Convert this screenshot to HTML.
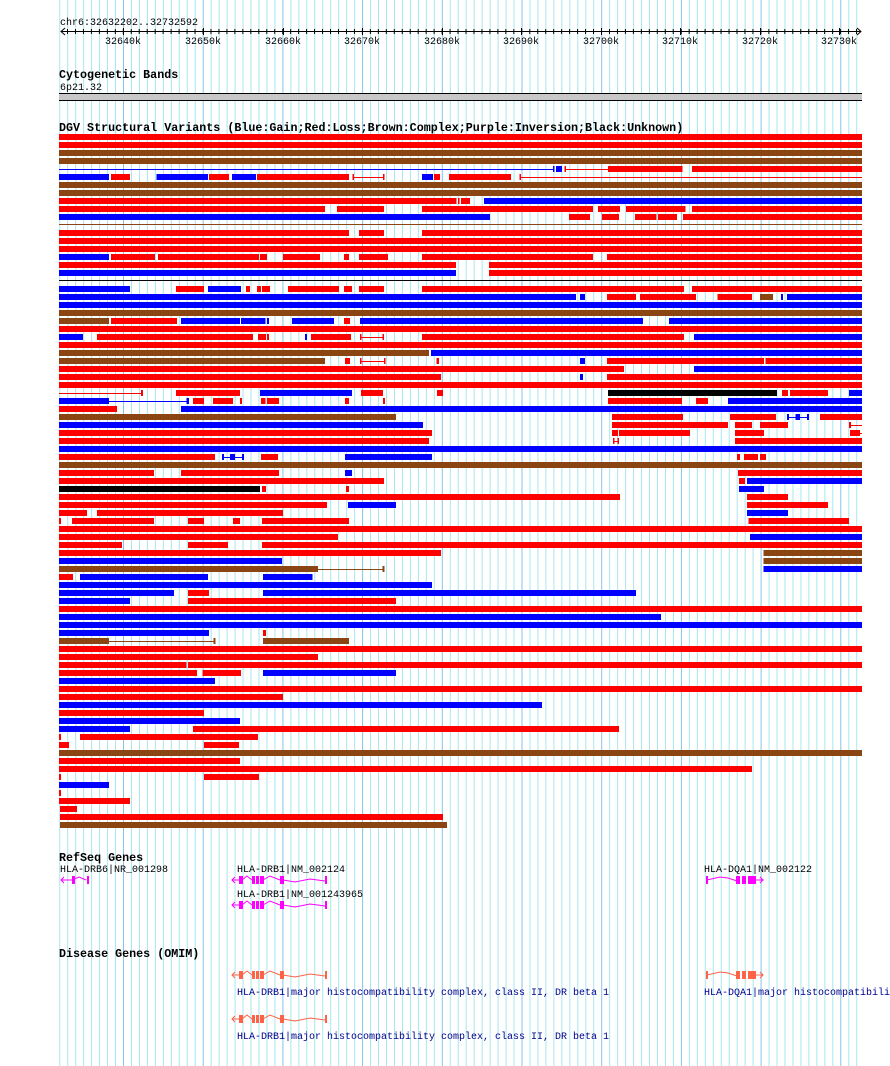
<!DOCTYPE html>
<html><head><meta charset="utf-8"><style>
html,body{margin:0;padding:0;background:#fff}
svg{display:block}
.s{font-family:"Liberation Mono",monospace;font-size:10px;fill:#000}
.t{font-family:"Liberation Mono",monospace;font-size:11.7px;font-weight:bold;fill:#000}
.d{font-family:"Liberation Mono",monospace;font-size:10px;fill:#00008b}
</style></head><body>
<svg width="890" height="1066" viewBox="0 0 890 1066" xmlns="http://www.w3.org/2000/svg">
<defs>
<pattern id="g" patternUnits="userSpaceOnUse" x="43.3" y="0" width="79.7" height="10">
<rect x="0" y="0" width="1" height="10" fill="#84c4e8"/>
<rect x="7.97" y="0" width="1" height="10" fill="#a8e6ee"/>
<rect x="15.94" y="0" width="1" height="10" fill="#a8e6ee"/>
<rect x="23.91" y="0" width="1" height="10" fill="#a8e6ee"/>
<rect x="31.88" y="0" width="1" height="10" fill="#a8e6ee"/>
<rect x="39.85" y="0" width="1" height="10" fill="#a8e6ee"/>
<rect x="47.82" y="0" width="1" height="10" fill="#a8e6ee"/>
<rect x="55.79" y="0" width="1" height="10" fill="#a8e6ee"/>
<rect x="63.76" y="0" width="1" height="10" fill="#a8e6ee"/>
<rect x="71.73" y="0" width="1" height="10" fill="#a8e6ee"/>
</pattern>
<pattern id="tk" patternUnits="userSpaceOnUse" x="67" y="0" width="7.97" height="10">
<rect x="0" y="0" width="1" height="10" fill="#000"/>
</pattern>
</defs>
<rect x="59" y="0" width="801" height="1066" fill="url(#g)"/>

<!-- ruler -->
<text class="s" x="60" y="25">chr6:32632202..32732592</text>
<rect x="61" y="31" width="800" height="1" fill="#000"/>
<path d="M65 28 L61 31.5 L65 35 M857 28 L861 31.5 L857 35" stroke="#000" fill="none"/>
<rect x="67" y="29" width="791" height="5" fill="url(#tk)"/>
<g fill="#000">
<rect x="123" y="28" width="1" height="7"/><rect x="203" y="28" width="1" height="7"/><rect x="283" y="28" width="1" height="7"/><rect x="362" y="28" width="1" height="7"/><rect x="442" y="28" width="1" height="7"/><rect x="521" y="28" width="1" height="7"/><rect x="601" y="28" width="1" height="7"/><rect x="680" y="28" width="1" height="7"/><rect x="760" y="28" width="1" height="7"/><rect x="839" y="28" width="1" height="7"/>
</g>
<g class="s" text-anchor="middle">
<text x="123" y="44">32640k</text><text x="203" y="44">32650k</text><text x="283" y="44">32660k</text><text x="362" y="44">32670k</text><text x="442" y="44">32680k</text><text x="521" y="44">32690k</text><text x="601" y="44">32700k</text><text x="680" y="44">32710k</text><text x="760" y="44">32720k</text><text x="839" y="44">32730k</text>
</g>

<!-- cytoband -->
<text class="t" x="59" y="78">Cytogenetic Bands</text>
<text class="s" x="60" y="90">6p21.32</text>
<rect x="59" y="93" width="803" height="7" fill="#c8c8c8"/>
<rect x="59" y="93" width="803" height="1" fill="#000"/>
<rect x="59" y="100" width="803" height="1" fill="#000"/>

<text class="t" x="59" y="131">DGV Structural Variants (Blue:Gain;Red:Loss;Brown:Complex;Purple:Inversion;Black:Unknown)</text>

<g transform="translate(55 0) scale(0.5166 1)" shape-rendering="crispEdges">
<g fill="#ff0000">
<rect x="8" y="134" width="1554" height="6"/>
<rect x="8" y="142" width="1554" height="6"/>
<rect x="986" y="166" width="3" height="6"/><rect x="988" y="169" width="82" height="1"/><rect x="1070" y="166" width="145" height="6"/><rect x="1233" y="166" width="329" height="6"/>
<rect x="108" y="174" width="37" height="6"/><rect x="298" y="174" width="39" height="6"/><rect x="391" y="174" width="178" height="6"/><rect x="576" y="174" width="3" height="6"/><rect x="576" y="177" width="61" height="1"/><rect x="635" y="174" width="3" height="6"/><rect x="734" y="174" width="11" height="6"/><rect x="763" y="174" width="120" height="6"/><rect x="899" y="174" width="3" height="6"/><rect x="899" y="177" width="663" height="1"/>
<rect x="8" y="198" width="769" height="6"/><rect x="780" y="198" width="3" height="6"/><rect x="786" y="198" width="17" height="6"/>
<rect x="8" y="206" width="515" height="6"/><rect x="546" y="206" width="91" height="6"/><rect x="710" y="206" width="331" height="6"/><rect x="1051" y="206" width="43" height="6"/><rect x="1105" y="206" width="115" height="6"/><rect x="1233" y="206" width="329" height="6"/>
<rect x="995" y="214" width="41" height="6"/><rect x="1059" y="214" width="33" height="6"/><rect x="1123" y="214" width="41" height="6"/><rect x="1167" y="214" width="37" height="6"/><rect x="1216" y="214" width="346" height="6"/>
<rect x="8" y="230" width="561" height="6"/><rect x="588" y="230" width="49" height="6"/><rect x="710" y="230" width="852" height="6"/>
<rect x="8" y="238" width="1554" height="6"/><rect x="8" y="246" width="1554" height="6"/>
<rect x="108" y="254" width="86" height="6"/><rect x="199" y="254" width="196" height="6"/><rect x="397" y="254" width="13" height="6"/><rect x="441" y="254" width="72" height="6"/><rect x="559" y="254" width="10" height="6"/><rect x="588" y="254" width="57" height="6"/><rect x="710" y="254" width="331" height="6"/><rect x="1069" y="254" width="493" height="6"/>
<rect x="8" y="262" width="768" height="6"/><rect x="840" y="262" width="722" height="6"/>
<rect x="840" y="270" width="722" height="6"/>
<rect x="234" y="286" width="54" height="6"/><rect x="370" y="286" width="7" height="6"/><rect x="391" y="286" width="8" height="6"/><rect x="401" y="286" width="15" height="6"/><rect x="451" y="286" width="99" height="6"/><rect x="559" y="286" width="16" height="6"/><rect x="588" y="286" width="49" height="6"/><rect x="710" y="286" width="508" height="6"/><rect x="1233" y="286" width="329" height="6"/>
<rect x="1069" y="294" width="56" height="6"/><rect x="1132" y="294" width="109" height="6"/><rect x="1282" y="294" width="67" height="6"/>
<rect x="108" y="318" width="128" height="6"/><rect x="559" y="318" width="12" height="6"/>
<rect x="8" y="326" width="1554" height="6"/>
<rect x="81" y="334" width="302" height="6"/><rect x="393" y="334" width="15" height="6"/><rect x="410" y="334" width="4" height="6"/><rect x="496" y="334" width="77" height="6"/><rect x="590" y="334" width="3" height="6"/><rect x="590" y="337" width="47" height="1"/><rect x="634" y="334" width="3" height="6"/><rect x="710" y="334" width="508" height="6"/>
<rect x="8" y="342" width="1554" height="6"/>
<rect x="561" y="358" width="10" height="6"/><rect x="590" y="358" width="3" height="6"/><rect x="590" y="361" width="50" height="1"/><rect x="637" y="358" width="3" height="6"/><rect x="738" y="358" width="5" height="6"/><rect x="1069" y="358" width="303" height="6"/><rect x="1375" y="358" width="187" height="6"/>
<rect x="8" y="366" width="1093" height="6"/>
<rect x="8" y="374" width="739" height="6"/><rect x="1069" y="374" width="493" height="6"/>
<rect x="8" y="382" width="1554" height="6"/>
<rect x="8" y="393" width="162" height="1"/><rect x="166" y="390" width="4" height="6"/><rect x="234" y="390" width="124" height="6"/><rect x="592" y="390" width="43" height="6"/><rect x="739" y="390" width="12" height="6"/><rect x="1407" y="390" width="12" height="6"/><rect x="1423" y="390" width="73" height="6"/>
<rect x="267" y="398" width="21" height="6"/><rect x="306" y="398" width="39" height="6"/><rect x="358" y="398" width="4" height="6"/><rect x="399" y="398" width="8" height="6"/><rect x="410" y="398" width="24" height="6"/><rect x="561" y="398" width="8" height="6"/><rect x="635" y="398" width="4" height="6"/><rect x="1070" y="398" width="144" height="6"/><rect x="1241" y="398" width="23" height="6"/>
<rect x="8" y="406" width="112" height="6"/>
<rect x="1078" y="414" width="138" height="6"/><rect x="1307" y="414" width="89" height="6"/><rect x="1481" y="414" width="81" height="6"/>
<rect x="1078" y="422" width="225" height="6"/><rect x="1316" y="422" width="33" height="6"/><rect x="1365" y="422" width="54" height="6"/><rect x="1537" y="422" width="4" height="6"/><rect x="1537" y="425" width="25" height="1"/>
<rect x="8" y="430" width="722" height="6"/><rect x="1078" y="430" width="12" height="6"/><rect x="1092" y="430" width="137" height="6"/><rect x="1316" y="430" width="56" height="6"/><rect x="1539" y="430" width="19" height="6"/><rect x="1558" y="433" width="4" height="1"/>
<rect x="8" y="438" width="716" height="6"/><rect x="1080" y="438" width="3" height="6"/><rect x="1089" y="438" width="3" height="6"/><rect x="1080" y="441" width="12" height="1"/><rect x="1316" y="438" width="246" height="6"/>
<rect x="8" y="454" width="302" height="6"/><rect x="399" y="454" width="33" height="6"/><rect x="1320" y="454" width="6" height="6"/><rect x="1334" y="454" width="27" height="6"/><rect x="1365" y="454" width="11" height="6"/>
<rect x="8" y="470" width="184" height="6"/><rect x="244" y="470" width="190" height="6"/><rect x="1322" y="470" width="240" height="6"/>
<rect x="8" y="478" width="629" height="6"/><rect x="1324" y="478" width="12" height="6"/>
<rect x="401" y="486" width="7" height="6"/><rect x="563" y="486" width="6" height="6"/>
<rect x="8" y="494" width="1086" height="6"/><rect x="1340" y="494" width="79" height="6"/>
<rect x="8" y="502" width="519" height="6"/><rect x="1340" y="502" width="156" height="6"/>
<rect x="8" y="510" width="54" height="6"/><rect x="81" y="510" width="360" height="6"/>
<rect x="8" y="518" width="4" height="6"/><rect x="33" y="518" width="159" height="6"/><rect x="257" y="518" width="31" height="6"/><rect x="345" y="518" width="13" height="6"/><rect x="401" y="518" width="168" height="6"/><rect x="1342" y="518" width="195" height="6"/>
<rect x="8" y="526" width="1554" height="6"/>
<rect x="8" y="534" width="540" height="6"/>
<rect x="8" y="542" width="122" height="6"/><rect x="257" y="542" width="78" height="6"/><rect x="401" y="542" width="1161" height="6"/>
<rect x="8" y="550" width="739" height="6"/>
<rect x="8" y="574" width="27" height="6"/>
<rect x="257" y="590" width="41" height="6"/>
<rect x="257" y="598" width="403" height="6"/>
<rect x="8" y="606" width="1554" height="6"/>
<rect x="403" y="630" width="5" height="6"/>
<rect x="8" y="646" width="1554" height="6"/>
<rect x="8" y="654" width="501" height="6"/>
<rect x="8" y="662" width="247" height="6"/><rect x="257" y="662" width="1305" height="6"/>
<rect x="8" y="670" width="267" height="6"/><rect x="286" y="670" width="74" height="6"/>
<rect x="8" y="686" width="1554" height="6"/>
<rect x="8" y="694" width="433" height="6"/>
<rect x="8" y="710" width="280" height="6"/>
<rect x="267" y="726" width="825" height="6"/>
<rect x="8" y="734" width="4" height="6"/><rect x="48" y="734" width="345" height="6"/>
<rect x="8" y="742" width="19" height="6"/><rect x="288" y="742" width="68" height="6"/>
<rect x="8" y="758" width="350" height="6"/>
<rect x="8" y="766" width="1341" height="6"/>
<rect x="8" y="774" width="4" height="6"/><rect x="288" y="774" width="107" height="6"/>
<rect x="8" y="790" width="4" height="6"/>
<rect x="8" y="798" width="137" height="6"/>
<rect x="10" y="806" width="33" height="6"/>
<rect x="10" y="814" width="741" height="6"/>
</g>
<g fill="#0000ff">
<rect x="8" y="169" width="957" height="1"/><rect x="964" y="166" width="3" height="6"/><rect x="970" y="166" width="11" height="6"/>
<rect x="8" y="174" width="97" height="6"/><rect x="196" y="174" width="100" height="6"/><rect x="343" y="174" width="46" height="6"/><rect x="710" y="174" width="22" height="6"/>
<rect x="830" y="198" width="732" height="6"/>
<rect x="8" y="214" width="834" height="6"/>
<rect x="8" y="254" width="97" height="6"/>
<rect x="8" y="270" width="768" height="6"/>
<rect x="8" y="286" width="137" height="6"/><rect x="296" y="286" width="64" height="6"/>
<rect x="8" y="294" width="1001" height="6"/><rect x="1016" y="294" width="10" height="6"/><rect x="1405" y="294" width="4" height="6"/><rect x="1417" y="294" width="145" height="6"/>
<rect x="8" y="302" width="1554" height="6"/>
<rect x="244" y="318" width="114" height="6"/><rect x="360" y="318" width="47" height="6"/><rect x="410" y="318" width="4" height="6"/><rect x="459" y="318" width="81" height="6"/><rect x="590" y="318" width="548" height="6"/><rect x="1189" y="318" width="373" height="6"/>
<rect x="8" y="334" width="46" height="6"/><rect x="484" y="334" width="4" height="6"/><rect x="1237" y="334" width="325" height="6"/>
<rect x="728" y="350" width="834" height="6"/>
<rect x="1016" y="358" width="10" height="6"/>
<rect x="1237" y="366" width="325" height="6"/>
<rect x="1016" y="374" width="6" height="6"/>
<rect x="397" y="390" width="178" height="6"/><rect x="1537" y="390" width="25" height="6"/>
<rect x="8" y="398" width="97" height="6"/><rect x="105" y="401" width="153" height="1"/><rect x="255" y="398" width="4" height="6"/><rect x="1303" y="398" width="259" height="6"/>
<rect x="244" y="406" width="1318" height="6"/>
<rect x="1417" y="414" width="4" height="6"/><rect x="1417" y="417" width="43" height="1"/><rect x="1433" y="414" width="9" height="6"/><rect x="1456" y="414" width="4" height="6"/>
<rect x="8" y="422" width="704" height="6"/>
<rect x="8" y="446" width="1554" height="6"/>
<rect x="323" y="454" width="4" height="6"/><rect x="323" y="457" width="43" height="1"/><rect x="339" y="454" width="9" height="6"/><rect x="362" y="454" width="4" height="6"/><rect x="561" y="454" width="169" height="6"/>
<rect x="561" y="470" width="14" height="6"/>
<rect x="1340" y="478" width="222" height="6"/>
<rect x="1324" y="486" width="48" height="6"/>
<rect x="567" y="502" width="93" height="6"/>
<rect x="1340" y="510" width="79" height="6"/>
<rect x="1345" y="534" width="217" height="6"/>
<rect x="8" y="558" width="431" height="6"/>
<rect x="1371" y="566" width="191" height="6"/>
<rect x="48" y="574" width="248" height="6"/><rect x="403" y="574" width="95" height="6"/>
<rect x="8" y="582" width="722" height="6"/>
<rect x="8" y="590" width="222" height="6"/><rect x="403" y="590" width="722" height="6"/>
<rect x="8" y="598" width="137" height="6"/>
<rect x="8" y="614" width="1165" height="6"/>
<rect x="8" y="622" width="1554" height="6"/>
<rect x="8" y="630" width="290" height="6"/>
<rect x="403" y="670" width="257" height="6"/>
<rect x="8" y="678" width="302" height="6"/>
<rect x="8" y="702" width="935" height="6"/>
<rect x="8" y="718" width="350" height="6"/>
<rect x="8" y="726" width="137" height="6"/>
<rect x="8" y="782" width="97" height="6"/>
</g>
<g fill="#8b4513">
<rect x="8" y="150" width="1554" height="6"/><rect x="8" y="158" width="1554" height="6"/>
<rect x="8" y="182" width="1554" height="6"/><rect x="8" y="190" width="1554" height="6"/>
<rect x="8" y="224" width="1554" height="1"/>
<rect x="1365" y="294" width="25" height="6"/>
<rect x="8" y="310" width="1554" height="6"/>
<rect x="8" y="318" width="97" height="6"/>
<rect x="8" y="350" width="716" height="6"/>
<rect x="8" y="358" width="515" height="6"/>
<rect x="8" y="414" width="652" height="6"/>
<rect x="8" y="462" width="1554" height="6"/>
<rect x="1371" y="550" width="191" height="6"/>
<rect x="1371" y="558" width="191" height="6"/>
<rect x="8" y="566" width="501" height="6"/><rect x="509" y="569" width="128" height="1"/><rect x="634" y="566" width="4" height="6"/>
<rect x="8" y="638" width="97" height="6"/><rect x="105" y="641" width="205" height="1"/><rect x="307" y="638" width="4" height="6"/><rect x="403" y="638" width="166" height="6"/>
<rect x="8" y="750" width="1554" height="6"/>
<rect x="10" y="822" width="749" height="6"/>
</g>
<g fill="#000">
<rect x="8" y="280" width="1554" height="1"/>
<rect x="1070" y="390" width="328" height="6"/>
<rect x="8" y="486" width="389" height="6"/>
</g>
</g>

<!-- RefSeq genes -->
<text class="t" x="59" y="861">RefSeq Genes</text>
<text class="s" x="60" y="872">HLA-DRB6|NR_001298</text>
<g stroke="#ff00ff" fill="none">
<path d="M61 880 H72 M64 877 L61 880 L64 883 M72 880 L79 877 L86 880"/>
</g>
<g fill="#ff00ff"><rect x="72" y="876" width="3" height="8"/><rect x="87" y="876" width="2" height="8"/></g>

<text class="s" x="237" y="872">HLA-DRB1|NM_002124</text>
<text class="s" x="237" y="897">HLA-DRB1|NM_001243965</text>
<g id="drb1">
<g stroke="#ff00ff" fill="none">
<path d="M232 880 H240 M235 877 L232 880 L235 883 M242 880 L247 876 L252 880 M263 880 L270 876 L280 880 M283 880 L295 882 L310 879 L325 881"/>
</g>
<g fill="#ff00ff"><rect x="239" y="876" width="4" height="8"/><rect x="252" y="876" width="3" height="8"/><rect x="256" y="876" width="3" height="8"/><rect x="260" y="876" width="4" height="8"/><rect x="280" y="876" width="4" height="8"/><rect x="325" y="876" width="2" height="8"/></g>
</g>
<use href="#drb1" y="25"/>

<text class="s" x="704" y="872">HLA-DQA1|NM_002122</text>
<g stroke="#ff00ff" fill="none"><path d="M707 880 L720 877 L728 878 L737 881 M755 880 H763 M760 877 L763 880 L760 883"/></g>
<g fill="#ff00ff"><rect x="706" y="876" width="2" height="8"/><rect x="736" y="876" width="4" height="8"/><rect x="742" y="876" width="4" height="8"/><rect x="748" y="876" width="8" height="8"/></g>

<!-- OMIM -->
<text class="t" x="59" y="957">Disease Genes (OMIM)</text>
<g id="om">
<g stroke="#ff6347" fill="none">
<path d="M232 975 H240 M235 972 L232 975 L235 978 M242 975 L247 971 L252 975 M263 975 L270 971 L280 975 M283 975 L295 977 L310 974 L325 976"/>
</g>
<g fill="#ff6347"><rect x="239" y="971" width="4" height="8"/><rect x="252" y="971" width="3" height="8"/><rect x="256" y="971" width="3" height="8"/><rect x="260" y="971" width="4" height="8"/><rect x="280" y="971" width="4" height="8"/><rect x="325" y="971" width="2" height="8"/></g>
</g>
<use href="#om" y="44"/>
<text class="d" x="237" y="995">HLA-DRB1|major histocompatibility complex, class II, DR beta 1</text>
<text class="d" x="237" y="1039">HLA-DRB1|major histocompatibility complex, class II, DR beta 1</text>
<g stroke="#ff6347" fill="none"><path d="M707 975 L720 972 L728 973 L737 976 M755 975 H763 M760 972 L763 975 L760 978"/></g>
<g fill="#ff6347"><rect x="706" y="971" width="2" height="8"/><rect x="736" y="971" width="4" height="8"/><rect x="742" y="971" width="4" height="8"/><rect x="748" y="971" width="8" height="8"/></g>
<text class="d" x="704" y="995">HLA-DQA1|major histocompatibili</text>
</svg>
</body></html>
